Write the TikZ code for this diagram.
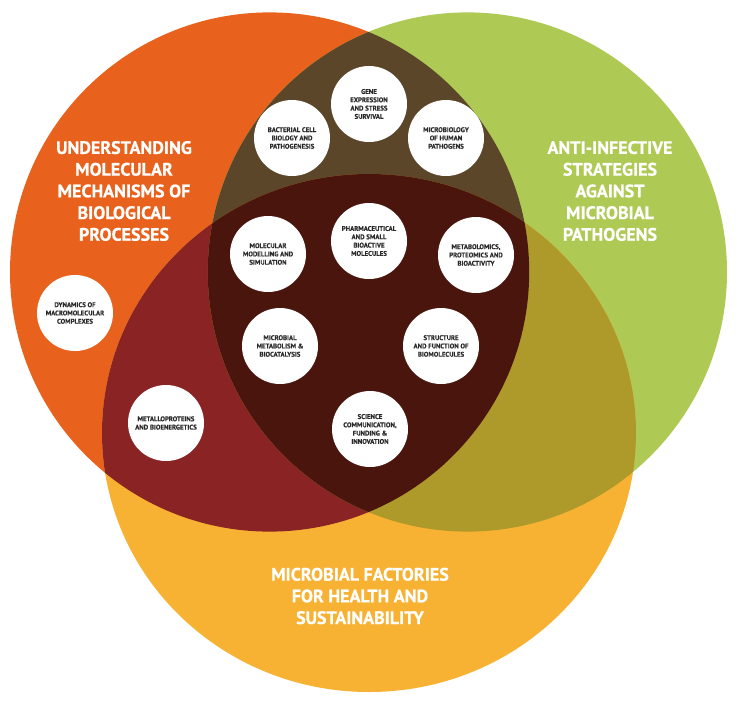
\documentclass[tikz,border=0pt]{standalone}
\usepackage{fontspec}
\setmainfont{PT Sans}
\newfontfamily\heavy{PT Sans Bold}[FakeBold=0.6]
\newfontfamily\smallbold{PT Sans Bold}[FakeBold=0.2]
\definecolor{cO}{HTML}{E9621D}
\definecolor{cG}{HTML}{AECA55}
\definecolor{cY}{HTML}{F8B233}
\definecolor{cOG}{HTML}{5C4629}
\definecolor{cOY}{HTML}{8A2424}
\definecolor{cGY}{HTML}{AD9A2A}
\definecolor{cC}{HTML}{4A150C}
\definecolor{cT}{HTML}{2A2A2A}
\begin{document}
\begin{tikzpicture}[x=1pt,y=-1pt,
  topic/.style={circle, fill=white, minimum size=76pt, inner sep=0pt, align=center,
    text=cT, font=\smallbold\fontsize{6.8}{8.3}\selectfont},
  title/.style={align=center, text=white, font=\heavy\fontsize{18}{21.7}\selectfont}]
\useasboundingbox (0,0) rectangle (740,702);
\coordinate (O) at (269.6,272);
\coordinate (G) at (467.4,272);
\coordinate (Y) at (369,433);
\tikzset{
  circO/.style={insert path={(O) circle[radius=259.6pt]}},
  circG/.style={insert path={(G) circle[radius=259.6pt]}},
  circY/.style={insert path={(Y) ellipse[x radius=267pt, y radius=259pt]}}}
\fill[cO, circO];
\fill[cG, circG];
\fill[cY, circY];
\begin{scope}
  \clip[circO];
  \fill[cOG, circG];
  \fill[cOY, circY];
\end{scope}
\begin{scope}
  \clip[circG];
  \fill[cGY, circY];
\end{scope}
\begin{scope}
  \clip[circO];
  \clip[circG];
  \fill[cC, circY];
\end{scope}
\node[title] (tO) at (124,191) {UNDERSTANDING\\MOLECULAR\\MECHANISMS OF\\BIOLOGICAL\\PROCESSES};
\node[title] (tG) at (610,191) {ANTI-INFECTIVE\\STRATEGIES\\AGAINST\\MICROBIAL\\PATHOGENS};
\node[title] (tY) at (360,596) {MICROBIAL FACTORIES\\FOR HEALTH AND\\SUSTAINABILITY};
\node[topic] (gene) at (369,104) {GENE\\EXPRESSION\\AND STRESS\\SURVIVAL};
\node[topic] (bact) at (292,138) {BACTERIAL CELL\\BIOLOGY AND\\PATHOGENESIS};
\node[topic] (micro) at (446,138) {MICROBIOLOGY\\OF HUMAN\\PATHOGENS};
\node[topic] (model) at (268,254) {MOLECULAR\\MODELLING AND\\SIMULATION};
\node[topic] (pharm) at (369,241) {PHARMACEUTICAL\\AND SMALL\\BIOACTIVE\\MOLECULES};
\node[topic] (metab) at (476,255) {METABOLOMICS,\\PROTEOMICS AND\\BIOACTIVITY};
\node[topic] (mmet) at (280,346) {MICROBIAL\\METABOLISM \&\\BIOCATALYSIS};
\node[topic] (struct) at (441,346) {STRUCTURE\\AND FUNCTION OF\\BIOMOLECULES};
\node[topic] (sci) at (370,429) {SCIENCE\\COMMUNICATION,\\FUNDING \&\\INNOVATION};
\node[topic] (dyn) at (75,313) {DYNAMICS OF\\MACROMOLECULAR\\COMPLEXES};
\node[topic] (metal) at (166,423) {METALLOPROTEINS\\AND BIOENERGETICS};
\end{tikzpicture}
\end{document}
